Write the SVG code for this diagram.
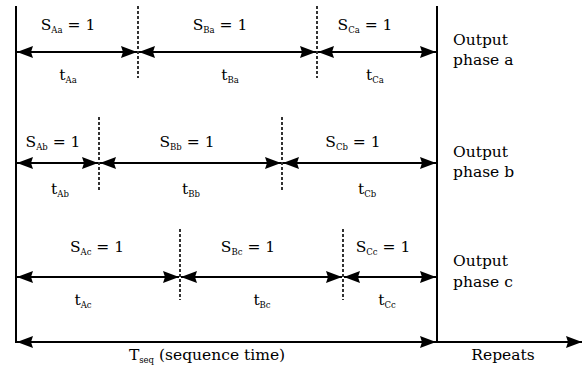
<svg xmlns="http://www.w3.org/2000/svg" width="583" height="370" viewBox="0 0 583 370">
<style>
text{font-family:'DejaVu Serif','Liberation Serif',serif;font-size:15.5px;fill:#000}
.sub{font-size:8.5px}
.m{text-anchor:middle}
.solid{stroke:#000;stroke-width:2;fill:none}
.dash{stroke:#000;stroke-width:1.6;stroke-dasharray:3,2;fill:none}
.arr{stroke:#000;stroke-width:2;fill:none;marker-start:url(#ah);marker-end:url(#ah)}
.arr1{stroke:#000;stroke-width:2;fill:none;marker-end:url(#ah)}
</style>
<defs>
<marker id="ah" markerUnits="userSpaceOnUse" viewBox="-16 -7 17 14" refX="0" refY="0" markerWidth="17" markerHeight="14" orient="auto-start-reverse">
<path d="M0,0 L-16,-6 L-14,0 L-16,6 z" fill="#000"/>
</marker>
</defs>
<g id="frame">
<line class="solid" x1="16" y1="6" x2="16" y2="343"/>
<line class="solid" x1="437" y1="6" x2="437" y2="343"/>
</g>
<g id="dividers">
<line class="dash" x1="138" y1="6" x2="138" y2="78"/>
<line class="dash" x1="317" y1="6" x2="317" y2="78"/>
<line class="dash" x1="99" y1="117" x2="99" y2="190"/>
<line class="dash" x1="282" y1="117" x2="282" y2="190"/>
<line class="dash" x1="180" y1="229" x2="180" y2="300"/>
<line class="dash" x1="343" y1="229" x2="343" y2="300"/>
</g>
<g id="connectors">
<line class="arr" x1="17" y1="52" x2="137" y2="52"/>
<line class="arr" x1="139" y1="52" x2="316" y2="52"/>
<line class="arr" x1="318" y1="52" x2="436" y2="52"/>
<line class="arr" x1="17" y1="163" x2="98" y2="163"/>
<line class="arr" x1="100" y1="163" x2="281" y2="163"/>
<line class="arr" x1="283" y1="163" x2="436" y2="163"/>
<line class="arr" x1="17" y1="277" x2="179" y2="277"/>
<line class="arr" x1="181" y1="277" x2="342" y2="277"/>
<line class="arr" x1="344" y1="277" x2="436" y2="277"/>
<line class="arr" x1="17" y1="342" x2="436" y2="342"/>
<line class="arr1" x1="438" y1="342" x2="582" y2="342"/>
</g>
<g id="phase-a">
<text x="68" y="30" class="m">S<tspan class="sub" dy="3">Aa</tspan><tspan dy="-3"> = 1</tspan></text>
<text x="220" y="30" class="m">S<tspan class="sub" dy="3">Ba</tspan><tspan dy="-3"> = 1</tspan></text>
<text x="365" y="30" class="m">S<tspan class="sub" dy="3">Ca</tspan><tspan dy="-3"> = 1</tspan></text>
<text x="68" y="80" class="m">t<tspan class="sub" dy="3">Aa</tspan></text>
<text x="230" y="80" class="m">t<tspan class="sub" dy="3">Ba</tspan></text>
<text x="375" y="80" class="m">t<tspan class="sub" dy="3">Ca</tspan></text>
<text x="453" y="45">Output</text>
<text x="453" y="65">phase a</text>
</g>
<g id="phase-b">
<text x="53" y="147" class="m">S<tspan class="sub" dy="3">Ab</tspan><tspan dy="-3"> = 1</tspan></text>
<text x="187" y="147" class="m">S<tspan class="sub" dy="3">Bb</tspan><tspan dy="-3"> = 1</tspan></text>
<text x="353" y="147" class="m">S<tspan class="sub" dy="3">Cb</tspan><tspan dy="-3"> = 1</tspan></text>
<text x="60" y="194" class="m">t<tspan class="sub" dy="3">Ab</tspan></text>
<text x="191" y="194" class="m">t<tspan class="sub" dy="3">Bb</tspan></text>
<text x="367" y="194" class="m">t<tspan class="sub" dy="3">Cb</tspan></text>
<text x="453" y="157">Output</text>
<text x="453" y="177">phase b</text>
</g>
<g id="phase-c">
<text x="97" y="252" class="m">S<tspan class="sub" dy="3">Ac</tspan><tspan dy="-3"> = 1</tspan></text>
<text x="248" y="252" class="m">S<tspan class="sub" dy="3">Bc</tspan><tspan dy="-3"> = 1</tspan></text>
<text x="383" y="252" class="m">S<tspan class="sub" dy="3">Cc</tspan><tspan dy="-3"> = 1</tspan></text>
<text x="83" y="305" class="m">t<tspan class="sub" dy="3">Ac</tspan></text>
<text x="262" y="305" class="m">t<tspan class="sub" dy="3">Bc</tspan></text>
<text x="387" y="305" class="m">t<tspan class="sub" dy="3">Cc</tspan></text>
<text x="453" y="266">Output</text>
<text x="453" y="287">phase c</text>
</g>
<g id="timeline-labels">
<text x="207" y="360" class="m">T<tspan class="sub" dy="3">seq</tspan><tspan dy="-3"> (sequence time)</tspan></text>
<text x="503" y="360" class="m">Repeats</text>
</g>
</svg>
